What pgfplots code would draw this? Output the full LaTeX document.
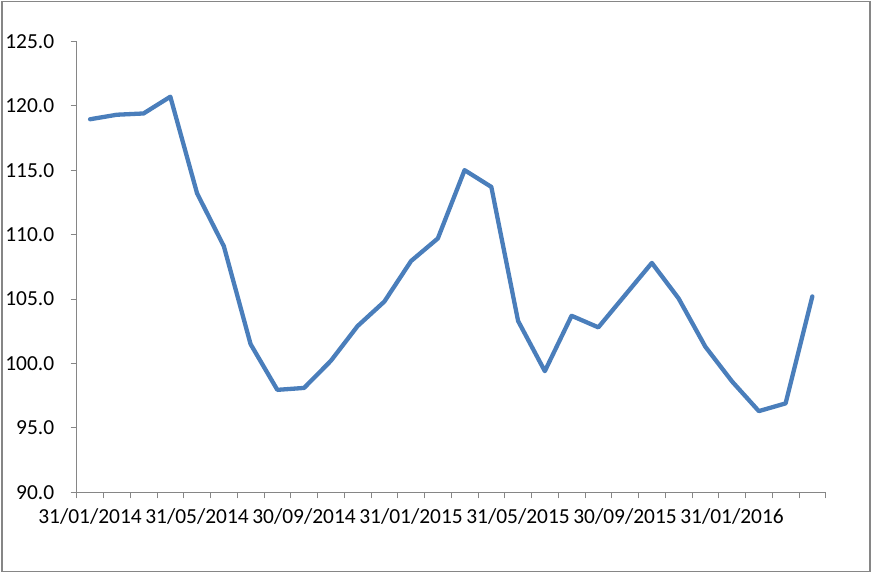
\documentclass[border=0pt]{standalone}
\usepackage{fontspec}
\setmainfont{Carlito}
\usepackage{pgfplots}
\pgfplotsset{compat=1.18}
\definecolor{serieblue}{RGB}{74,126,187}
\definecolor{axisgray}{RGB}{134,134,134}
\begin{document}
\begin{tikzpicture}
\useasboundingbox (0,0) rectangle (873bp,573bp);
\draw[axisgray, line width=1.5bp] (2bp,1.3bp) rectangle (870bp,571.7bp);
\begin{axis}[
    at={(76.7bp,80.7bp)}, anchor=south west,
    scale only axis,
    width=749bp, height=451bp,
    xmin=-0.5, xmax=27.5,
    ymin=90, ymax=125,
    axis lines*=left,
    axis line style={draw=axisgray, line width=0.9bp},
    tick align=outside,
    tick style={draw=axisgray, line width=0.9bp},
    major tick length=6bp,
    minor tick length=6bp,
    ytick={90,95,...,125},
    xtick={0,4,...,24},
    xticklabels={31/01/2014,31/05/2014,30/09/2014,31/01/2015,31/05/2015,30/09/2015,31/01/2016},
    major x tick style={draw=none},
    minor xtick={-0.5,0.5,...,27.5},
    ticklabel style={font=\fontsize{21.5}{25}\selectfont},
    /pgf/number format/assume math mode=true,
    yticklabel style={xshift=-13bp, /pgf/number format/fixed, /pgf/number format/fixed zerofill, /pgf/number format/precision=1},
    xticklabel style={yshift=-7bp},
    clip=false,
]
\addplot[serieblue, line width=4.3bp, line join=round, line cap=round] coordinates {
(0,118.95) (1,119.3) (2,119.4) (3,120.7) (4,113.2) (5,109.1) (6,101.5)
(7,97.95) (8,98.1) (9,100.2) (10,102.9) (11,104.8) (12,107.95) (13,109.7)
(14,115.0) (15,113.7) (16,103.3) (17,99.4) (18,103.7) (19,102.8) (20,105.3)
(21,107.8) (22,105.05) (23,101.3) (24,98.6) (25,96.3) (26,96.9) (27,105.2)
};
\end{axis}
\end{tikzpicture}
\end{document}
